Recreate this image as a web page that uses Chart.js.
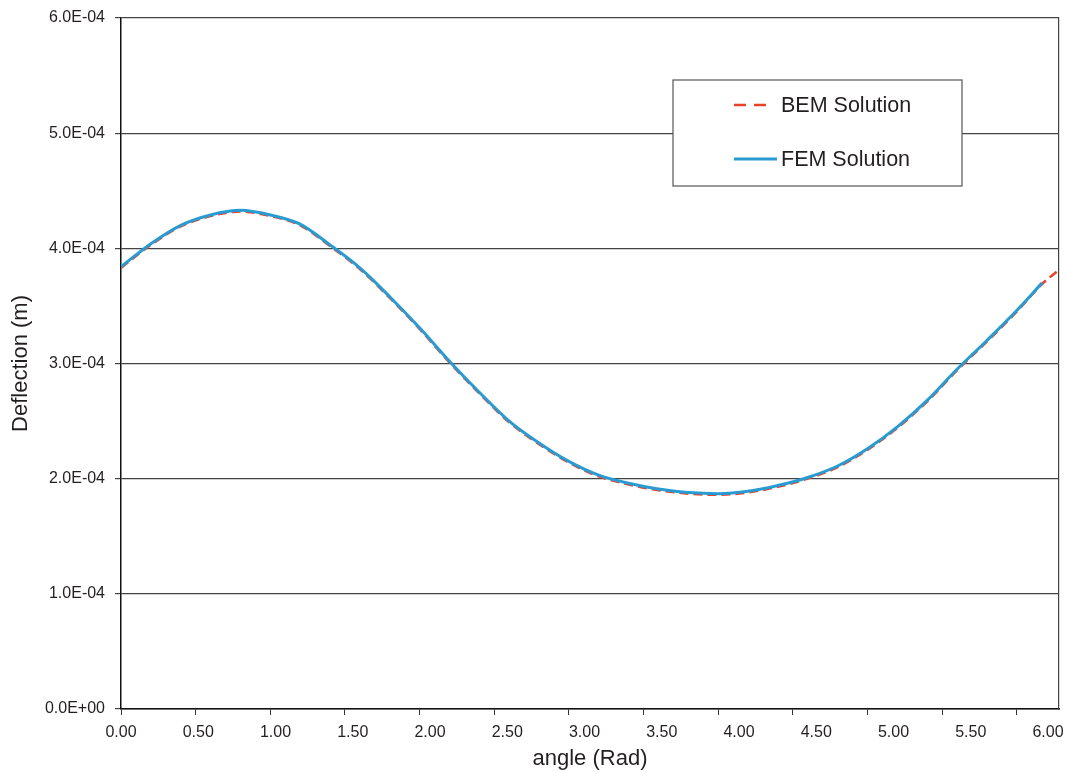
<!DOCTYPE html>
<html>
<head>
<meta charset="utf-8">
<script src="https://cdn.jsdelivr.net/npm/chart.js@4.4.1/dist/chart.umd.min.js"></script>
<style>
  html, body { margin: 0; padding: 0; background: #ffffff; }
  #wrap { width: 1068px; height: 772px; }
</style>
</head>
<body>
<div id="wrap"><canvas id="deflectionChart"></canvas></div>
<script>
// angle (rad) of each sample
const angles = [0.0, 0.2, 0.4, 0.6, 0.8, 1.0, 1.2, 1.4, 1.6, 1.8, 2.0, 2.2, 2.4, 2.6, 2.8, 3.0,
  3.2, 3.4, 3.6, 3.8, 4.0, 4.2, 4.4, 4.6, 4.8, 5.0, 5.2, 5.4, 5.6, 5.8, 6.0, 6.17, 6.28];

const bemSolution = [3.83e-4, 4.03e-4, 4.19e-4, 4.28e-4, 4.32e-4, 4.28e-4, 4.20e-4, 4.02e-4,
  3.82e-4, 3.57e-4, 3.30e-4, 3.01e-4, 2.74e-4, 2.49e-4, 2.30e-4, 2.14e-4, 2.02e-4, 1.95e-4,
  1.90e-4, 1.87e-4, 1.86e-4, 1.88e-4, 1.93e-4, 2.00e-4, 2.10e-4, 2.25e-4, 2.44e-4, 2.67e-4,
  2.94e-4, 3.19e-4, 3.45e-4, 3.69e-4, 3.81e-4];

const femSolution = [3.84e-4, 4.04e-4, 4.20e-4, 4.29e-4, 4.33e-4, 4.29e-4, 4.21e-4, 4.03e-4,
  3.83e-4, 3.58e-4, 3.31e-4, 3.02e-4, 2.75e-4, 2.50e-4, 2.31e-4, 2.15e-4, 2.03e-4, 1.96e-4,
  1.91e-4, 1.88e-4, 1.87e-4, 1.89e-4, 1.94e-4, 2.01e-4, 2.11e-4, 2.26e-4, 2.45e-4, 2.68e-4,
  2.95e-4, 3.20e-4, 3.46e-4, 3.70e-4, null];

// tick marks sit at true 0.5 rad steps, the printed labels are spread a little wider
const xTickMarks = [0, 0.5, 1.0, 1.5, 2.0, 2.5, 3.0, 3.5, 4.0, 4.5, 5.0, 5.5, 6.0];
const xTickValues = [0, 0.5, 1.0, 1.5, 2.0, 2.5, 3.0, 3.5, 4.0, 4.5, 5.0, 5.5, 6.0];
const xTickLabels = ['0.00', '0.50', '1.00', '1.50', '2.00', '2.50', '3.00', '3.50',
  '4.00', '4.50', '5.00', '5.50', '6.00'];
const yTickValues = [0, 1e-4, 2e-4, 3e-4, 4e-4, 5e-4, 6e-4];
const yTickLabels = ['0.0E+00', '1.0E-04', '2.0E-04', '3.0E-04', '4.0E-04', '5.0E-04', '6.0E-04'];

const FONT = 'Arial, "Liberation Sans", sans-serif';
const TEXT = '#231f20';

const legendBox = {
  id: 'legendBox',
  afterDatasetsDraw(chart) {
    const ctx = chart.ctx;
    ctx.save();
    ctx.fillStyle = '#ffffff';
    ctx.strokeStyle = '#555555';
    ctx.lineWidth = 1.2;
    ctx.fillRect(673, 80, 289, 106);
    ctx.strokeRect(673, 80, 289, 106);
    ctx.font = '21.5px ' + FONT;
    ctx.textBaseline = 'middle';
    chart.data.datasets.forEach((ds, i) => {
      const y = 105 + i * 54;
      ctx.strokeStyle = ds.borderColor;
      ctx.lineWidth = ds.borderWidth;
      ctx.setLineDash(ds.borderDash.length ? [12, 8] : []);
      ctx.beginPath();
      ctx.moveTo(734, y);
      ctx.lineTo(ds.borderDash.length ? 770 : 777, y);
      ctx.stroke();
      ctx.setLineDash([]);
      ctx.fillStyle = TEXT;
      ctx.fillText(ds.label, 781, y + 1);
    });
    ctx.restore();
  }
};

new Chart(document.getElementById('deflectionChart'), {
  type: 'line',
  data: {
    datasets: [{
      label: 'BEM Solution',
      data: angles.map((a, i) => ({ x: a, y: bemSolution[i] })),
      borderColor: 'rgb(232, 66, 40)',
      borderWidth: 2.5,
      borderDash: [9, 5],
      pointRadius: 0,
      cubicInterpolationMode: 'monotone',
      order: 2
    }, {
      label: 'FEM Solution',
      data: angles.map((a, i) => ({ x: a, y: femSolution[i] })),
      borderColor: 'rgb(40, 156, 210)',
      borderWidth: 3,
      borderDash: [],
      pointRadius: 0,
      cubicInterpolationMode: 'monotone',
      order: 1
    }]
  },
  options: {
    responsive: true,
    maintainAspectRatio: false,
    animation: false,
    layout: { padding: { top: 18, left: 4, right: 0, bottom: 0 } },
    plugins: {
      legend: { display: false },
      tooltip: { enabled: false }
    },
    scales: {
      x: {
        type: 'linear',
        position: 'bottom',
        weight: 0,
        min: 0,
        max: 2 * Math.PI,
        afterBuildTicks: axis => { axis.ticks = xTickMarks.map(v => ({ value: v })); },
        ticks: { display: false },
        grid: { drawOnChartArea: false, drawTicks: true, tickLength: 6, color: '#333333' },
        border: { display: true, color: '#111111', width: 1.5 },
        afterFit: axis => { axis.height = 6; axis.paddingLeft = 0; axis.paddingRight = 0; }
      },
      x2: {
        type: 'linear',
        position: 'bottom',
        weight: 1,
        min: 0,
        max: 6.071,
        afterBuildTicks: axis => { axis.ticks = xTickValues.map(v => ({ value: v })); },
        ticks: {
          callback: (v, i) => xTickLabels[i],
          font: { size: 16, family: FONT },
          color: TEXT,
          padding: 8,
          maxRotation: 0,
          autoSkip: false
        },
        grid: { display: false, drawTicks: false },
        border: { display: false },
        title: {
          display: true,
          text: 'angle (Rad)',
          font: { size: 22, family: FONT },
          color: TEXT,
          padding: { top: 0, bottom: 0 }
        },
        afterFit: axis => { axis.height = 57; axis.paddingLeft = 0; axis.paddingRight = 0; }
      },
      y: {
        min: 0,
        max: 6e-4,
        afterBuildTicks: axis => { axis.ticks = yTickValues.map(v => ({ value: v })); },
        ticks: {
          callback: (v, i) => yTickLabels[i],
          font: { size: 16, family: FONT },
          color: TEXT,
          padding: 10
        },
        grid: { color: '#444444', tickLength: 6, lineWidth: 1.2 },
        border: { color: '#111111', width: 1.5 },
        title: {
          display: true,
          text: 'Deflection (m)',
          font: { size: 22, family: FONT },
          color: TEXT,
          padding: { top: 4, bottom: 0 }
        },
        afterFit: axis => { axis.width = 117; axis.paddingTop = 0; axis.paddingBottom = 0; }
      },
      y2: {
        position: 'right',
        display: true,
        grid: { display: false, drawTicks: false },
        ticks: { display: false },
        border: { display: true, color: '#444444', width: 1.2 },
        afterFit: axis => { axis.width = 9; }
      }
    }
  },
  plugins: [legendBox]
});
</script>
</body>
</html>
